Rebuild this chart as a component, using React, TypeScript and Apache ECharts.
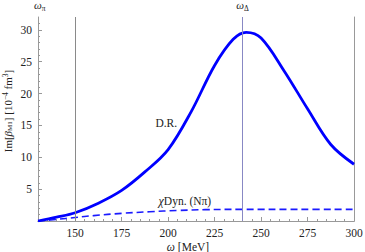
import React, { useEffect, useRef } from "react";
import * as echarts from "echarts";

const omega = [130, 140, 150, 162.5, 175, 187.5, 200, 212.5, 225, 235, 242, 250, 262.5, 275, 287.5, 300];
const drValues = [0, 0.6, 1.3, 2.8, 4.8, 7.7, 11.2, 17.2, 24.4, 28.5, 29.6, 28.7, 23.5, 17.6, 12.0, 8.9];

const omegaDyn = [130, 140, 150, 160, 175, 190, 205, 220, 240, 270, 300];
const dynValues = [0, 0.25, 0.55, 0.85, 1.2, 1.45, 1.65, 1.78, 1.83, 1.83, 1.83];

const xMajorTicks = [150, 175, 200, 225, 250, 275, 300];
const xMinorTicks = [135, 140, 145, 155, 160, 165, 170, 180, 185, 190, 195, 205, 210, 215, 220, 230, 235, 240, 245, 255, 260, 265, 270, 280, 285, 290, 295];
const yMajorTicks = [5, 10, 15, 20, 25, 30];
const yMinorTicks = [1, 2, 3, 4, 6, 7, 8, 9, 11, 12, 13, 14, 16, 17, 18, 19, 21, 22, 23, 24, 26, 27, 28, 29, 31];

const omegaPi = 150;
const omegaDelta = 240;
const topLabelValues = [131, 240];
const topLabelTexts = ["{w|ω}{s|π}", "{w|ω}{s|Δ}"];

const FONT = "Liberation Serif";
const FRAME = "#999999";

export default function App() {
  const ref = useRef<HTMLDivElement>(null);
  useEffect(() => {
    if (!ref.current) return;
    const chart = echarts.init(ref.current, null, { renderer: "svg" });
    const grid = { left: 38, right: 11, top: 17, bottom: 31, containLabel: false, outerBoundsMode: "none" };
    const labelStyle = { fontFamily: FONT, fontSize: 11.5, color: "#222" };
    chart.setOption({
      animation: false,
      grid,
      xAxis: [
        {
          type: "value", min: 130, max: 300, position: "bottom",
          axisLine: { show: true, lineStyle: { color: FRAME, width: 1 } },
          axisTick: { show: true, inside: true, length: 4, customValues: xMajorTicks, lineStyle: { color: FRAME } },
          axisLabel: { ...labelStyle, margin: 6, customValues: xMajorTicks },
          splitLine: { show: false },
          name: "{w|ω} [MeV]",
          nameLocation: "middle",
          nameGap: 20,
          nameMoveOverlap: false,
          nameTextStyle: {
            fontFamily: FONT, fontSize: 11.5, color: "#222", padding: [0, 16, 0, 0],
            rich: { w: { fontFamily: FONT, fontStyle: "italic", fontSize: 11.5, color: "#222" } },
          },
        },
        {
          type: "value", min: 130, max: 300, position: "bottom",
          axisLine: { show: false },
          axisTick: { show: true, inside: true, length: 2, customValues: xMinorTicks, lineStyle: { color: FRAME } },
          axisLabel: { show: false },
          splitLine: { show: false },
        },
        {
          type: "value", min: 130, max: 300, position: "top",
          axisLine: { show: true, lineStyle: { color: FRAME, width: 1 } },
          axisTick: { show: false },
          axisLabel: {
            show: true, margin: 5, customValues: topLabelValues,
            formatter: (v: number) => topLabelTexts[topLabelValues.indexOf(v)] ?? "",
            rich: {
              w: { fontFamily: FONT, fontStyle: "italic", fontSize: 11, color: "#222" },
              s: { fontFamily: FONT, fontSize: 7.5, color: "#222", padding: [6, 0, 0, 0] },
            },
          },
          splitLine: { show: false },
        },
      ],
      yAxis: [
        {
          type: "value", min: 0, max: 32, position: "left",
          axisLine: { show: true, lineStyle: { color: FRAME, width: 1 } },
          axisTick: { show: true, inside: true, length: 4, customValues: yMajorTicks, lineStyle: { color: FRAME } },
          axisLabel: { ...labelStyle, margin: 6, customValues: yMajorTicks },
          splitLine: { show: false },
          name: "Im[{b|β}{sub|M1}] [10{sup|−4} fm{sup|3}]",
          nameLocation: "middle",
          nameGap: 24,
          nameMoveOverlap: false,
          nameRotate: 90,
          nameTextStyle: {
            fontFamily: FONT, fontSize: 11, color: "#222", padding: [0, 0, 0, 16],
            rich: {
              b: { fontFamily: FONT, fontStyle: "italic", fontSize: 11, color: "#222" },
              sub: { fontFamily: FONT, fontSize: 7, color: "#222", padding: [5, 0, 0, 0] },
              sup: { fontFamily: FONT, fontSize: 7.5, color: "#222", padding: [0, 0, 5, 0] },
            },
          },
        },
        {
          type: "value", min: 0, max: 32, position: "left",
          axisLine: { show: false },
          axisTick: { show: true, inside: true, length: 2, customValues: yMinorTicks, lineStyle: { color: FRAME } },
          axisLabel: { show: false },
          splitLine: { show: false },
        },
        {
          type: "value", min: 0, max: 32, position: "right",
          axisLine: { show: true, lineStyle: { color: FRAME, width: 1 } },
          axisTick: { show: false },
          axisLabel: { show: false },
          splitLine: { show: false },
        },
      ],
      series: [
        {
          type: "line",
          xAxisIndex: 0, yAxisIndex: 0,
          data: [],
          silent: true,
          markLine: {
            symbol: "none",
            silent: true,
            label: { show: false },
            data: [
              { xAxis: omegaPi, lineStyle: { color: "#8a8a8a", width: 1, type: "solid" } },
              { xAxis: omegaDelta, lineStyle: { color: "#8888c4", width: 1, type: "solid" } },
            ],
          },
        },
        {
          type: "line",
          xAxisIndex: 0, yAxisIndex: 0,
          data: omegaDyn.map((x, i) => [x, dynValues[i]]),
          smooth: 0.4,
          showSymbol: false,
          lineStyle: { color: "#1a1aff", width: 1.6, type: [7, 4] },
          markPoint: {
            symbol: "circle", symbolSize: 0,
            label: {
              show: true, position: "inside",
              formatter: "{c|χ}Dyn. (Nπ)",
              fontFamily: FONT, fontSize: 11.5, color: "#222",
              rich: { c: { fontFamily: FONT, fontStyle: "italic", fontSize: 12, color: "#222" } },
            },
            data: [{ coord: [209, 3.1], value: 0 }],
          },
        },
        {
          type: "line",
          xAxisIndex: 0, yAxisIndex: 0,
          data: omega.map((x, i) => [x, drValues[i]]),
          smooth: 0.35,
          showSymbol: false,
          lineStyle: { color: "#0000ff", width: 2.8 },
          markPoint: {
            symbol: "circle", symbolSize: 0,
            label: {
              show: true, position: "inside", formatter: "D.R.",
              fontFamily: FONT, fontSize: 11.5, color: "#222",
            },
            data: [{ coord: [199, 15.3], value: 0 }],
          },
        },
      ],
    });
    return () => chart.dispose();
  }, []);
  return (
    <div
      ref={ref}
      style={{ position: "absolute", left: 0, top: 0, width: 365, height: 252, background: "#fff" }}
    />
  );
}
